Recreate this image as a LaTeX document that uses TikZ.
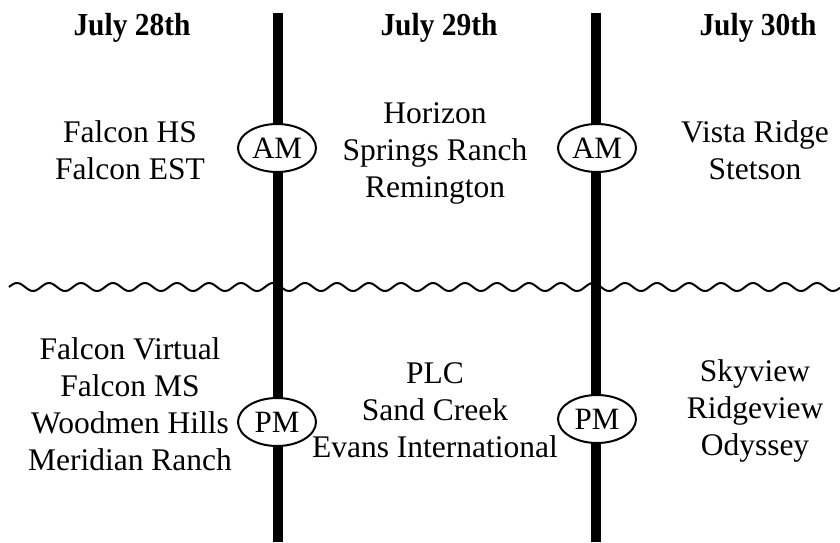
\documentclass[tikz,border=0pt]{standalone}
\usepackage{fontspec}
\usepackage{graphicx}
\setmainfont{Liberation Serif}
\usetikzlibrary{shapes.geometric}
\newcommand{\hdtext}[1]{\scalebox{0.92}[1]{#1}}
\begin{document}
\begin{tikzpicture}[x=1pt,y=-1pt,
  body/.style={align=center,font=\fontsize{31.5}{37}\selectfont,inner sep=0pt},
  head/.style={anchor=base,font=\fontsize{32}{36}\selectfont\bfseries,inner sep=0pt},
  tag/.style={ellipse,draw,line width=2pt,fill=white,minimum width=78pt,minimum height=48pt,inner sep=0pt,font=\fontsize{31}{36}\selectfont},
  bar/.style={line width=10pt},
  wave/.style={line width=2pt}]
\useasboundingbox (0,0) rectangle (840,542);
% wavy divider
\draw[wave] plot[domain=9:840,samples=400,smooth] (\x,{287-4*sin(11.25*(\x-9))});
% bars
\coordinate (b1t) at (278,13);
\coordinate (b1b) at (278,542);
\coordinate (b2t) at (596,13);
\coordinate (b2b) at (596,542);
\draw[bar] (b1t) -- (b1b);
\draw[bar] (b2t) -- (b2b);
% headers
\node[head] (h28) at (132,35) {\hdtext{July 28th}};
\node[head] (h29) at (439,35) {\hdtext{July 29th}};
\node[head] (h30) at (758,35) {\hdtext{July 30th}};
% tags
\node[tag] (am1) at (277,148) {AM};
\node[tag] (am2) at (597,148) {AM};
\node[tag] (pm1) at (277,422) {PM};
\node[tag] (pm2) at (597,419) {PM};
% text blocks
\node[body] (t28am) at (130,150) {Falcon HS\\Falcon EST};
\node[body] (t29am) at (435,153) {Horizon\\Springs Ranch\\Remington};
\node[body] (t30am) at (755,150) {Vista Ridge\\Stetson};
\node[body] (t28pm) at (130,404) {Falcon Virtual\\Falcon MS\\Woodmen Hills\\Meridian Ranch};
\node[body] (t29pm) at (435,410) {PLC\\Sand Creek\\Evans International};
\node[body] (t30pm) at (755,411) {Skyview\\Ridgeview\\Odyssey};
\end{tikzpicture}
\end{document}
